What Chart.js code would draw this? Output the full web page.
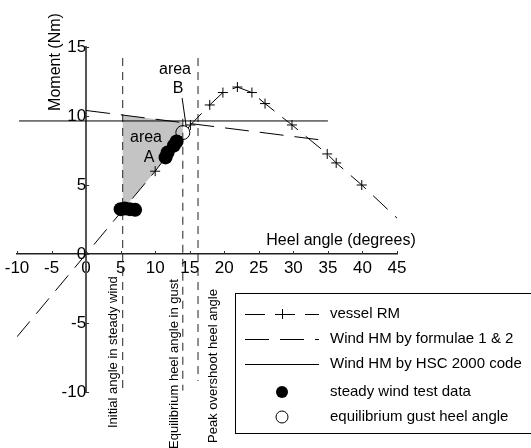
<!DOCTYPE html>
<html>
<head>
<meta charset="utf-8">
<script src="https://cdn.jsdelivr.net/npm/chart.js@4.4.0/dist/chart.umd.min.js"></script>
<style>
html, body { margin: 0; padding: 0; background: #fff; }
#wrap { width: 531px; height: 448px; }
</style>
</head>
<body>
<div id="wrap"><canvas id="heelChart"></canvas></div>
<script>
// vessel righting moment curve (first two and last point carry no marker)
const rmAngle = [-10, 0, 10, 15.1, 17.9, 19.8, 21.9, 24, 25.9, 29.8, 34.9, 36.2, 39.9, 45];
const rmMoment = [-6, 0, 6, 9.35, 10.8, 11.7, 12.1, 11.7, 10.9, 9.35, 7.25, 6.6, 5.0, 2.6];

// wind heeling moment, formulae 1 & 2
const windAngle = [0, 35];
const windMoment = [10.4, 8.2];

// wind heeling moment, HSC 2000 code
const hscAngle = [-9.7, 35];
const hscMoment = [9.64, 9.64];

// steady wind test data
const steadyAngle = [5.0, 5.6, 6.3, 7.1, 11.5, 11.8, 12.7, 13.1];
const steadyMoment = [3.25, 3.3, 3.25, 3.2, 7.0, 7.35, 7.85, 8.15];

// equilibrium gust heel angle
const gustAngle = [14.0];
const gustMoment = [8.8];

// vertical marker lines: angle, top and bottom
const markAngle = [5.3, 14.0, 16.2];
const markTop = [14.2, 9.8, 14.2];
const markBottom = [-9.9, -9.9, -9.2];
const markLabels = ['Initial angle in steady wind', 'Equilibrium heel angle in gust', 'Peak overshoot heel angle'];

// shaded area A outline
const areaAngle = [5.3, 5.3, 14.0, 14.0, 10, 5.3];
const areaMoment = [3.2, 10.07, 9.52, 8.7, 6, 3.2];

// pointer from the "area B" label
const pointerAngle = [13.9, 14.5];
const pointerMoment = [11.3, 9.2];

const legendLabels = ['vessel RM', 'Wind HM by formulae 1 & 2', 'Wind HM by HSC 2000 code',
    'steady wind test data', 'equilibrium gust heel angle'];

const xMin = -10, xMax = 45, yMin = -10, yMax = 15, tickStep = 5;

function pts(xs, ys) {
    return xs.map((x, i) => ({ x: x, y: ys[i] }));
}

const lineBase = { showLine: true, pointRadius: 0, borderColor: '#000', borderWidth: 1, fill: false };

const datasets = [
    { data: pts(gustAngle, gustMoment), pointStyle: 'circle', pointRadius: 7, pointBackgroundColor: 'rgba(0,0,0,0)',
      pointBorderColor: '#000', pointBorderWidth: 1, order: 0 },
    { data: pts(steadyAngle, steadyMoment), pointStyle: 'circle', pointRadius: 7, pointBackgroundColor: '#000',
      pointBorderColor: '#000', pointBorderWidth: 0, order: 1 },
    Object.assign({}, lineBase, { data: pts(pointerAngle, pointerMoment), order: 2 }),
    Object.assign({}, lineBase, {
        data: pts(rmAngle, rmMoment), borderDash: [20, 10], pointStyle: 'cross',
        pointRadius: c => (c.dataIndex < 2 || c.dataIndex === rmAngle.length - 1) ? 0 : 5,
        pointBorderColor: '#000', pointBorderWidth: 1, order: 3
    }),
    Object.assign({}, lineBase, { data: pts(windAngle, windMoment), borderDash: [24, 11], order: 4 }),
    Object.assign({}, lineBase, { data: pts(hscAngle, hscMoment), order: 5 })
];

markAngle.forEach((a, i) => {
    datasets.push(Object.assign({}, lineBase, {
        data: [{ x: a, y: markTop[i] }, { x: a, y: markBottom[i] }],
        borderDash: [8, 6], borderColor: '#222', order: 6
    }));
});

datasets.push({
    data: pts(areaAngle, areaMoment), showLine: true, pointRadius: 0, borderWidth: 0,
    borderColor: 'rgba(0,0,0,0)', backgroundColor: '#c4c4c4', fill: 'shape', order: 10
});

const decorPlugin = {
    id: 'decor',
    afterDraw(chart) {
        const ctx = chart.ctx;
        const xs = chart.scales.x, ys = chart.scales.y;
        const x0 = xs.getPixelForValue(0), y0 = ys.getPixelForValue(0);

        ctx.save();
        // small tick marks on the axes
        ctx.strokeStyle = '#333';
        ctx.lineWidth = 1;
        ctx.beginPath();
        for (let v = xMin; v <= xMax; v += tickStep) {
            const px = Math.round(xs.getPixelForValue(v)) + 0.5;
            ctx.moveTo(px, y0);
            ctx.lineTo(px, y0 - 3);
        }
        for (let v = yMin; v <= yMax; v += tickStep) {
            const py = Math.round(ys.getPixelForValue(v)) + 0.5;
            ctx.moveTo(x0, py);
            ctx.lineTo(x0 + 3, py);
        }
        ctx.stroke();

        ctx.fillStyle = '#000';
        // axis titles
        ctx.font = '16px Arial, "Liberation Sans", sans-serif';
        ctx.textAlign = 'center';
        ctx.textBaseline = 'middle';
        ctx.fillText('Heel angle (degrees)', 341, 241);
        ctx.save();
        ctx.translate(56, 62);
        ctx.rotate(-Math.PI / 2);
        ctx.fillText('Moment (Nm)', 0, 0);
        ctx.restore();

        // area labels
        ctx.fillText('area', 146, 138);
        ctx.fillText('A', 149, 158);
        ctx.fillText('area', 175, 70);
        ctx.fillText('B', 178, 89);

        // vertical marker labels
        ctx.font = '13px Arial, "Liberation Sans", sans-serif';
        ctx.textAlign = 'left';
        const labelX = [113, 174, 213];
        const labelY = [428, 449, 443];
        markLabels.forEach((t, i) => {
            ctx.save();
            ctx.translate(labelX[i], labelY[i]);
            ctx.rotate(-Math.PI / 2);
            ctx.fillText(t, 0, 0);
            ctx.restore();
        });

        // legend box
        const lx = 235.5, ly = 293.5;
        ctx.fillStyle = '#fff';
        ctx.fillRect(lx, ly, 310, 140);
        ctx.strokeStyle = '#000';
        ctx.lineWidth = 1;
        ctx.strokeRect(lx, ly, 310, 140);
        const rowY = [314, 339, 364, 392, 417];
        const s0 = 245, s1 = 319, sm = 282;
        const dashes = [[20, 10], [24, 11], []];
        for (let i = 0; i < 3; i++) {
            ctx.setLineDash(dashes[i]);
            ctx.beginPath();
            ctx.moveTo(s0, rowY[i] + 0.5);
            ctx.lineTo(s1, rowY[i] + 0.5);
            ctx.stroke();
        }
        ctx.setLineDash([]);
        ctx.beginPath();
        ctx.moveTo(sm - 5, rowY[0] + 0.5);
        ctx.lineTo(sm + 5, rowY[0] + 0.5);
        ctx.moveTo(sm + 0.5, rowY[0] - 5);
        ctx.lineTo(sm + 0.5, rowY[0] + 5);
        ctx.stroke();
        ctx.fillStyle = '#000';
        ctx.beginPath();
        ctx.arc(sm, rowY[3], 6, 0, Math.PI * 2);
        ctx.fill();
        ctx.beginPath();
        ctx.arc(sm, rowY[4], 6, 0, Math.PI * 2);
        ctx.stroke();

        ctx.font = '15px Arial, "Liberation Sans", sans-serif';
        ctx.textAlign = 'left';
        ctx.textBaseline = 'middle';
        legendLabels.forEach((t, i) => ctx.fillText(t, 330, rowY[i]));
        ctx.restore();
    }
};

Chart.defaults.font.family = 'Arial, "Liberation Sans", sans-serif';
Chart.defaults.color = '#000';

new Chart(document.getElementById('heelChart'), {
    type: 'scatter',
    data: { datasets: datasets },
    options: {
        responsive: true,
        maintainAspectRatio: false,
        animation: false,
        events: [],
        layout: { padding: { left: 17, right: 134, top: 47, bottom: 56 } },
        plugins: { legend: { display: false }, tooltip: { enabled: false } },
        scales: {
            x: {
                type: 'linear', min: xMin, max: xMax, position: { y: 0 },
                grid: { display: false, drawTicks: false },
                border: { display: true, color: '#222', width: 1.5 },
                ticks: { stepSize: tickStep, autoSkip: false, maxRotation: 0, padding: 4,
                         font: { size: 17 }, color: '#000' }
            },
            y: {
                type: 'linear', min: yMin, max: yMax, position: { x: 0 },
                grid: { display: false, drawTicks: false },
                border: { display: true, color: '#555', width: 2 },
                ticks: { stepSize: tickStep, autoSkip: false, padding: 2,
                         font: { size: 17 }, color: '#000' }
            }
        }
    },
    plugins: [decorPlugin]
});
</script>
</body>
</html>
